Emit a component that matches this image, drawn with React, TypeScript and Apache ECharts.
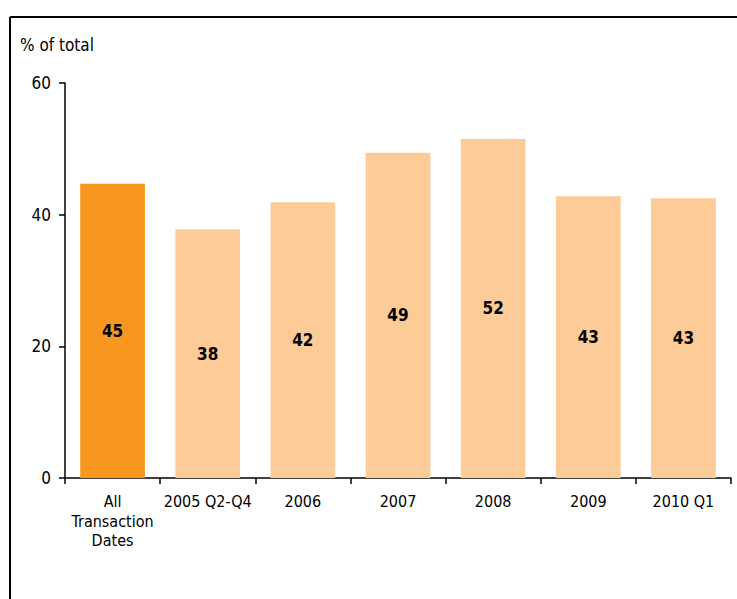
import React, { useEffect, useRef } from "react";
import * as echarts from "echarts";

const categories = ["All\nTransaction\nDates", "2005 Q2-Q4", "2006", "2007", "2008", "2009", "2010 Q1"];
const values = [44.7, 37.8, 41.9, 49.4, 51.5, 42.8, 42.5];
const labels = ["45", "38", "42", "49", "52", "43", "43"];
const yTicks = [0, 20, 40, 60];

const FONT = "DejaVu Sans Condensed, Noto Sans, sans-serif";

export default function App() {
  const ref = useRef<HTMLDivElement>(null);
  useEffect(() => {
    if (!ref.current) return;
    const chart = echarts.init(ref.current, null, { renderer: "svg" });
    chart.setOption({
      animation: false,
      grid: { left: 65, right: 6, top: 83, bottom: 121, containLabel: false },
      graphic: [
        { type: "line", shape: { x1: 10, y1: 17, x2: 737, y2: 17 }, style: { stroke: "#000", lineWidth: 2 } },
        { type: "line", shape: { x1: 10, y1: 17, x2: 10, y2: 599 }, style: { stroke: "#000", lineWidth: 2 } },
        { type: "text", left: 20, top: 36, style: { text: "% of total", font: `17px ${FONT}`, fill: "#000" } },
      ],
      xAxis: {
        type: "category",
        data: categories,
        axisLine: { lineStyle: { color: "#000", width: 1.5 } },
        axisTick: { show: true, length: 6, lineStyle: { color: "#000", width: 1.5 } },
        axisLabel: { color: "#000", fontSize: 16, fontFamily: FONT, margin: 14, lineHeight: 19.5, interval: 0 },
      },
      yAxis: {
        type: "value",
        min: 0,
        max: 60,
        interval: 20,
        splitLine: { show: false },
        axisLine: { show: true, lineStyle: { color: "#000", width: 1.5 } },
        axisTick: { show: true, length: 6, lineStyle: { color: "#000", width: 1.5 } },
        axisLabel: { color: "#000", fontSize: 17, fontFamily: FONT, margin: 14,
          formatter: (v: number) => (yTicks.includes(v) ? String(v) : "") },
      },
      series: [
        {
          type: "bar",
          barWidth: "68%",
          data: values.map((v, i) => ({
            value: v,
            itemStyle: { color: i === 0 ? "#F7971E" : "#FDCB97" },
            label: { formatter: labels[i] },
          })),
          label: {
            show: true,
            position: "inside",
            color: "#000",
            fontWeight: "bold",
            fontSize: 17,
            fontFamily: FONT,
          },
        },
      ],
    });
    return () => chart.dispose();
  }, []);
  return (
    <div
      ref={ref}
      style={{ position: "fixed", left: 0, top: 0, width: 737, height: 599, background: "#fff" }}
    />
  );
}
